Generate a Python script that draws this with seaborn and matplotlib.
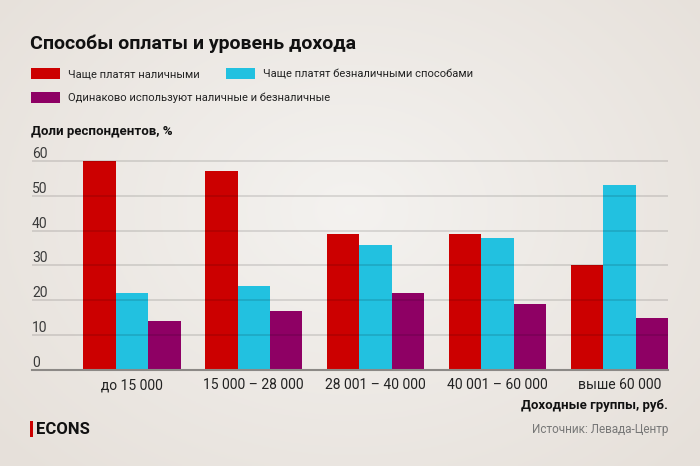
import numpy as np
import pandas as pd
import matplotlib
matplotlib.use("Agg")
import matplotlib.pyplot as plt
from matplotlib.patches import Rectangle
import seaborn as sns

# ---- data ----
categories = ["до 15 000", "15 000 – 28 000", "28 001 – 40 000", "40 001 – 60 000", "выше 60 000"]
series_names = ["Чаще платят наличными",
                "Чаще платят безналичными способами",
                "Одинаково используют наличные и безналичные"]
cash = [60, 57, 39, 39, 30]
cashless = [22, 24, 36, 38, 53]
both = [14, 17, 22, 19, 15]
yticks = [0, 10, 20, 30, 40, 50, 60]
colors = ["#cc0000", "#22c1e0", "#8e0064"]

rows = []
for name, vals in zip(series_names, [cash, cashless, both]):
    for cat, v in zip(categories, vals):
        rows.append({"group": cat, "series": name, "value": v})
df = pd.DataFrame(rows)

sns.set_theme(style="white")
plt.rcParams["font.family"] = ["Roboto", "DejaVu Sans"]

W, H = 700, 466
fig = plt.figure(figsize=(W / 100, H / 100), dpi=100)

# background gradient
bg = fig.add_axes([0, 0, 1, 1], zorder=-10)
yy, xx = np.mgrid[0:1:200j, 0:1:300j]
r = np.sqrt(((xx - 0.5) / 0.65) ** 2 + ((yy - 0.45) / 0.75) ** 2)
c0 = np.array([0.957, 0.950, 0.940])
c1 = np.array([0.905, 0.882, 0.858])
img = c0 + (c1 - c0) * np.clip(r, 0, 1)[..., None]
bg.imshow(img, aspect="auto", extent=[0, 1, 0, 1])
bg.axis("off")

ax = fig.add_axes([32 / W, 96 / H, 636 / W, (370 - 154) / H])
ax.set_facecolor("none")
sns.barplot(data=df, x="group", y="value", hue="series", hue_order=series_names,
            order=categories, palette=colors, width=0.8, saturation=1,
            linewidth=0, ax=ax)
ax.set_xlim(-0.82, 4.4)
ax.set_ylim(0, 62)
ax.set_xlabel("")
ax.set_ylabel("")
for s in ["top", "right", "left"]:
    ax.spines[s].set_visible(False)
ax.spines["bottom"].set_color("#8c8986")
ax.spines["bottom"].set_linewidth(1.5)
ax.spines["bottom"].set_zorder(5)

ax.set_yticks(yticks)
ax.set_yticklabels([str(t) for t in yticks])
ax.tick_params(axis="y", length=0, pad=0, labelsize=10, labelcolor="#3a3a3a")
for lbl in ax.get_yticklabels():
    lbl.set_horizontalalignment("left")
    lbl.set_verticalalignment("bottom")
ax.tick_params(axis="x", length=0, pad=6, labelsize=10, labelcolor="#222222")
ax.grid(axis="y", color="black", alpha=0.13, linewidth=1.2)
ax.set_axisbelow(False)

handles, labels = ax.get_legend_handles_labels()
ax.get_legend().remove()

# legend entries
leg_pos = [(31, 68), (226, 68), (31, 92)]
for h, l, (px, py) in zip(handles, labels, leg_pos):
    lg = fig.legend([h], [l], loc="upper left", bbox_to_anchor=(px / W, 1 - py / H),
                    frameon=False, borderpad=0, borderaxespad=0, handlelength=2.6,
                    handleheight=1.15, handletextpad=0.7, fontsize=8)
    for t in lg.get_texts():
        t.set_color("#222222")

# texts
fig.text(30 / W, 1 - 44 / H, "Способы оплаты и уровень дохода", ha="left", va="center",
         fontsize=14, fontweight="bold", color="#111111")
fig.text(31 / W, 1 - 131 / H, "Доли респондентов, %", ha="left", va="center",
         fontsize=9.5, fontweight="bold", color="#111111")
fig.text(668 / W, 1 - 406 / H, "Доходные группы, руб.", ha="right", va="center",
         fontsize=9.5, fontweight="bold", color="#111111")
fig.text(36 / W, 1 - 429 / H, "ECONS", ha="left", va="center",
         fontsize=12, fontweight="bold", color="#111111")
fig.add_artist(Rectangle((30 / W, 1 - 437 / H), 2.5 / W, 16 / H,
                         transform=fig.transFigure, color="#cc0000", lw=0))
fig.text(668 / W, 1 - 429 / H, "Источник: Левада-Центр", ha="right", va="center",
         fontsize=8.5, color="#777777")

fig.savefig("out.png", dpi=100)
